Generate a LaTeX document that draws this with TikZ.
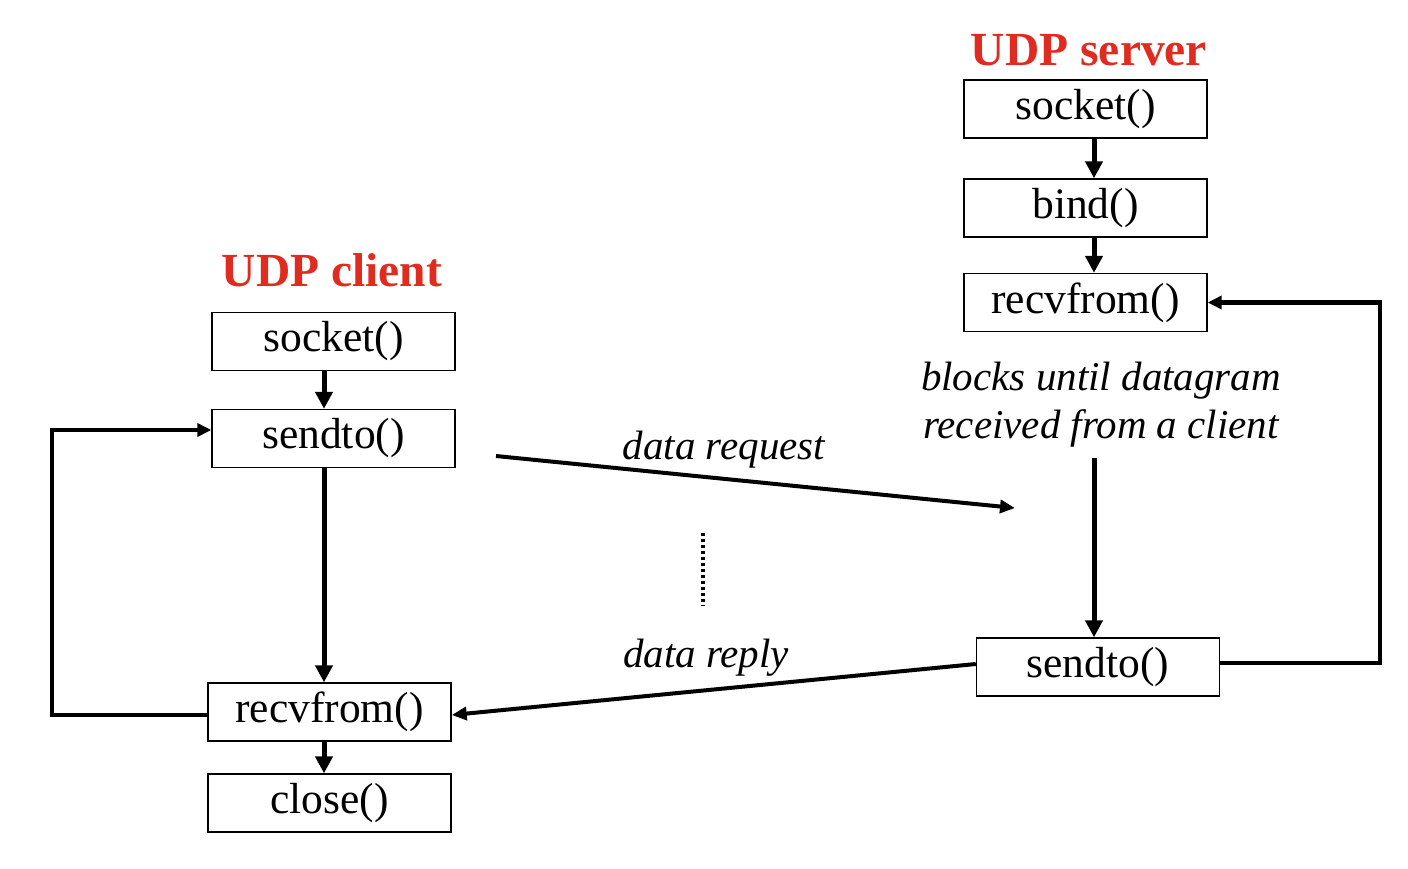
\documentclass[tikz,border=0pt]{standalone}
\usepackage{fontspec}
\setmainfont{Liberation Serif}
\usetikzlibrary{arrows.meta}
\definecolor{ttlred}{RGB}{224,44,32}
\begin{document}
\begin{tikzpicture}[x=1pt,y=-1pt,
  fbox/.style={draw,line width=1.4pt,minimum width=243pt,minimum height=58pt,inner sep=0pt,font=\fontsize{43.5}{46}\selectfont},
  ttl/.style={text=ttlred,font=\fontsize{47.5}{50}\selectfont\bfseries},
  lbl/.style={font=\fontsize{41}{48}\selectfont\itshape,inner sep=0pt},
  conn/.style={line width=5pt,-{Triangle[length=17pt,width=17pt]}},
  loop/.style={line width=4.5pt,-{Triangle[length=14pt,width=13pt]}}]
\useasboundingbox (0,0) rectangle (1408,868);
\fill[white] (0,0) rectangle (1408,868);
% server
\node[ttl] (st) at (1089,50) {UDP server};
\node[fbox] (s1) at (1085.5,109) {socket()};
\node[fbox] (s2) at (1085.5,208) {bind()};
\node[fbox] (s3) at (1085.5,302.5) {recvfrom()};
\node[fbox] (s4) at (1098,667) {sendto()};
\node[lbl,align=center] (blk) at (1101,405) {blocks until datagram\\received from a client};
% client
\node[ttl] (ct) at (332,270) {UDP client};
\node[fbox] (c1) at (333.5,341.5) {socket()};
\node[fbox] (c2) at (333.5,438.5) {sendto()};
\node[fbox] (c3) at (329.5,712) {recvfrom()};
\node[fbox] (c4) at (329.5,803) {close()};
% labels
\node[lbl] (dq) at (724,450) {data request};
\node[lbl] (dr) at (706,658) {data reply};
% coordinates
\coordinate (rqs) at (496,456);
\coordinate (rqe) at (1015,508);
\coordinate (blkend) at (1094,458);
\coordinate (cl) at (52,715);
\coordinate (sr) at (1380,663);
\coordinate (d1) at (703,533);
\coordinate (d2) at (703,606);
% server arrows
\draw[conn] (s1.south -| 1094,0) -- (s2.north -| 1094,0);
\draw[conn] (s2.south -| 1094,0) -- (s3.north -| 1094,0);
\draw[conn] (blkend) -- (s4.north -| blkend);
\draw[loop] (s4.east |- sr) -- ++(4,0) -- (sr) |- (s3.east);
% client arrows
\draw[conn] (c1.south -| 324,0) -- (c2.north -| 324,0);
\draw[conn] (c2.south -| 324,0) -- (c3.north -| 324,0);
\draw[conn] (c3.south -| 324,0) -- (c4.north -| 324,0);
\draw[loop] (c3.west |- cl) -- (cl) |- (c2.west |- 0,430);
% messages
\draw[line width=4pt,-{Triangle[length=15pt,width=13pt]}] (rqs) -- (rqe);
\draw[line width=4pt,-{Triangle[length=15pt,width=13pt]}] (s4.west |- 0,664) -- (c3.east |- 0,715);
\draw[line width=3.5pt,dash pattern=on 3pt off 3pt] (d1) -- (d2);
\end{tikzpicture}
\end{document}
